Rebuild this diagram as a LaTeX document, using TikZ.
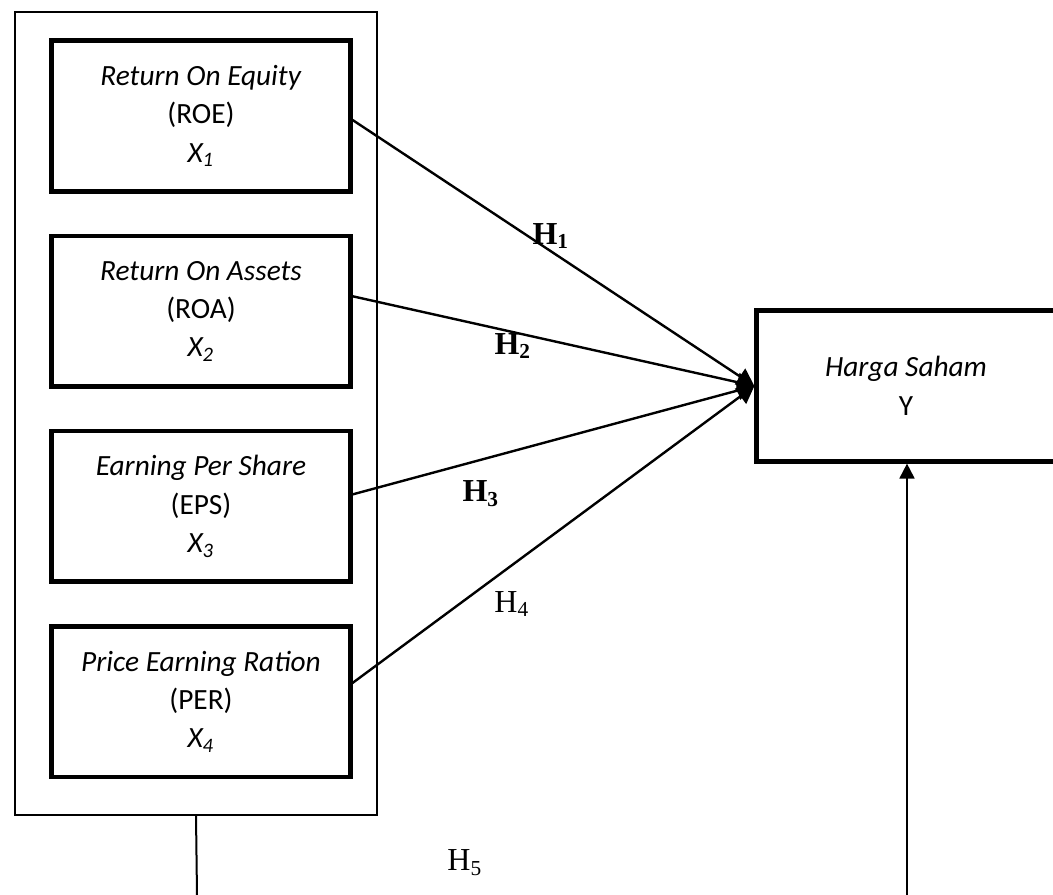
\documentclass[tikz,border=0pt]{standalone}
\usepackage{fontspec}
\setmainfont{Liberation Serif}
\newfontfamily\calibri{Carlito}
\usetikzlibrary{arrows.meta, positioning}

\begin{document}
\begin{tikzpicture}[x=0.375pt, y=-0.375pt,
  var/.style={rectangle, draw, line width=1.7pt, minimum width=112pt,
              minimum height=56.5pt, align=center,
              font=\calibri\fontsize{11}{14.4}\selectfont},
  arr/.style={-{Triangle[length=6.5pt, width=7pt]}, line width=0.9pt},
  hlab/.style={font=\fontsize{12}{14}\selectfont}
]
\useasboundingbox (0,0) rectangle (1053,895);
\clip (0,0) rectangle (1053,895);

% independent variables
\node[var] (roe) at (201,116) {\textit{Return On Equity}\\(ROE)\\\textit{X\textsubscript{1}}};
\node[var, below=15pt of roe] (roa) {\textit{Return On Assets}\\(ROA)\\\textit{X\textsubscript{2}}};
\node[var, below=15pt of roa] (eps) {\textit{Earning Per Share}\\(EPS)\\\textit{X\textsubscript{3}}};
\node[var, below=15pt of eps] (per) {\textit{Price Earning Ration}\\(PER)\\\textit{X\textsubscript{4}}};
\node[draw, line width=0.6pt, minimum width=135.7pt, minimum height=301pt] (frame) at (196,413.5) {};

% dependent variable
\node[var] (harga) at (906,386) {\textit{Harga Saham}\\Y};

\draw[arr] ([yshift=-1.5pt]roe.east) -- (harga.west);
\draw[arr] ([yshift=5.6pt]roa.east) -- (harga.west);
\draw[arr] ([yshift=4.5pt]eps.east) -- (harga.west);
\draw[arr] ([yshift=7pt]per.east) -- (harga.west);

\coordinate (fbot) at (197,895);
\coordinate (ybot) at (907,895);
\draw[line width=0.75pt] (frame.south) -- (fbot);
\draw[-{Triangle[length=5.6pt, width=5.6pt]}, line width=0.75pt] (ybot) -- (ybot |- harga.south);

\node[hlab] (h1) at (551,236) {\textbf{H\textsubscript{1}}};
\node[hlab] (h2) at (513,346) {\textbf{H\textsubscript{2}}};
\node[hlab] (h3) at (481,494) {\textbf{H\textsubscript{3}}};
\node[hlab] (h4) at (512,604) {H\textsubscript{4}};
\node[hlab] (h5) at (465,863) {H\textsubscript{5}};
\end{tikzpicture}
\end{document}
